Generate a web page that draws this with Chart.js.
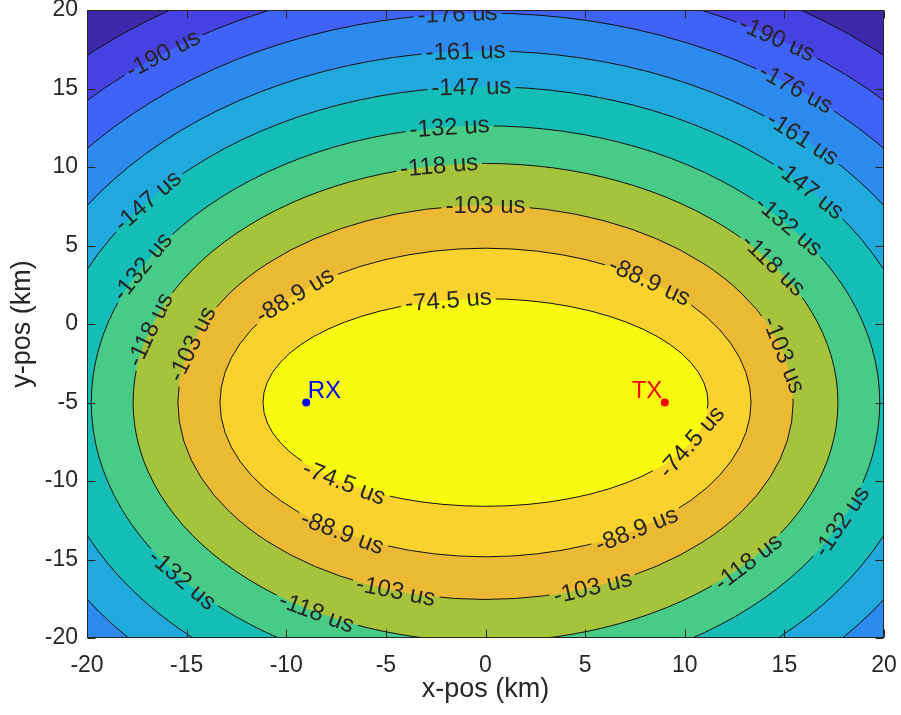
<!DOCTYPE html>
<html><head><meta charset="utf-8">
<script src="https://cdn.jsdelivr.net/npm/chart.js@4.4.0/dist/chart.umd.min.js"></script>
<style>html,body{margin:0;padding:0;background:#fff;}#wrap{width:901px;height:715px;}</style>
</head><body><div id="wrap"><canvas id="c" width="901" height="715"></canvas></div>
<script>
// ---- data ----
const levels = [-74.5, -88.9, -103, -118, -132, -147, -161, -176, -190, -204]; // contour levels (us)
const bandColors = ['#f9fb0e', '#f9d22d', '#ecb935', '#a5c43b', '#48cb86', '#14bdb6', '#1fa9dd', '#2d8bf0', '#3f63f8', '#4641e1', '#3e27a9']; // inner -> outer
const rxPos = [-9, -5];
const txPos = [9, -5];
const xTicks = [-20, -15, -10, -5, 0, 5, 10, 15, 20];
const yTicks = [-20, -15, -10, -5, 0, 5, 10, 15, 20];
const labelAnchors = [ // [level, approx x, approx y] where clabel put the label
  [-176, -1.4, 19.6], [-161, -1.0, 17.3], [-147, -0.7, 14.9], [-132, -1.8, 12.5],
  [-118, -2.3, 9.9], [-103, 0, 7.45], [-88.9, -9.1, 1.5], [-88.9, 8.0, 2.5],
  [-74.5, -1.8, 1.3], [-74.5, 9.9, -7.4], [-74.5, -6.8, -9.9], [-88.9, -6.5, -12.5],
  [-88.9, 7.5, -13.0], [-103, -4.5, -17], [-103, 5.4, -16.8], [-118, -8.5, -18.4],
  [-118, 13.5, -15.4], [-132, -15.1, -16.2], [-132, 17.7, -12.5], [-103, -14.6, -1.3],
  [-118, -16.7, -0.4], [-132, -17.5, 3.8], [-147, -16.9, 7.8], [-190, -16.1, 17.1],
  [-190, 14.4, 17.8], [-176, 15.5, 14.9], [-161, 15.8, 11.7], [-147, 16.2, 8.5],
  [-132, 14.9, 6.0], [-118, 14.2, 3.6], [-103, 14.8, -2.0]
];
const C_KM_PER_US = 0.2998;

const FONT = '"Liberation Sans", Arial, Helvetica, sans-serif';
const TXT = '#262626';

function ellipseOf(L) {
  const cx = (rxPos[0] + txPos[0]) / 2, cy = (rxPos[1] + txPos[1]) / 2;
  const c = Math.hypot(txPos[0] - rxPos[0], txPos[1] - rxPos[1]) / 2;
  const a = Math.abs(L) * C_KM_PER_US / 2;
  const b = Math.sqrt(Math.max(a * a - c * c, 0));
  return {cx, cy, a, b};
}

const contourPlugin = {
  id: 'contourf',
  beforeDatasetsDraw(chart) {
    const {ctx, chartArea: ar, scales: {x, y}} = chart;
    const W = ar.right - ar.left, H = ar.bottom - ar.top;
    const px = e => {
      const cxp = x.getPixelForValue(e.cx), cyp = y.getPixelForValue(e.cy);
      return {cxp, cyp, A: Math.abs(x.getPixelForValue(e.cx + e.a) - cxp), B: Math.abs(y.getPixelForValue(e.cy + e.b) - cyp)};
    };
    ctx.save();
    ctx.beginPath(); ctx.rect(ar.left, ar.top, W, H); ctx.clip();
    ctx.fillStyle = bandColors[levels.length];
    ctx.fillRect(ar.left, ar.top, W, H);
    const ells = levels.map(L => px(ellipseOf(L)));
    for (let i = levels.length - 1; i >= 0; i--) {
      const e = ells[i];
      ctx.beginPath(); ctx.ellipse(e.cxp, e.cyp, e.A, e.B, 0, 0, Math.PI * 2);
      ctx.fillStyle = bandColors[i]; ctx.fill();
    }
    // labels
    ctx.font = '24px ' + FONT;
    const labs = labelAnchors.map(([L, lx, ly]) => {
      const ed = ellipseOf(L), e = px(ed);
      const t = Math.atan2((ly - ed.cy) / ed.b, (lx - ed.cx) / ed.a);
      const pX = e.cxp + e.A * Math.cos(t), pY = e.cyp - e.B * Math.sin(t);
      let ang = Math.atan2(-e.B * Math.cos(t), -e.A * Math.sin(t));
      if (ang > Math.PI / 2) ang -= Math.PI;
      if (ang < -Math.PI / 2) ang += Math.PI;
      const text = L + ' us';
      const w = ctx.measureText(text).width + 8, h = 20;
      return {pX, pY, ang, text, w, h};
    });
    // lines, broken under labels
    ctx.save();
    ctx.beginPath(); ctx.rect(ar.left, ar.top, W, H);
    labs.forEach(l => {
      const c = Math.cos(l.ang), s = Math.sin(l.ang);
      const pts = [[-l.w / 2, -l.h / 2], [l.w / 2, -l.h / 2], [l.w / 2, l.h / 2], [-l.w / 2, l.h / 2]];
      pts.forEach(([u, v], k) => {
        const X = l.pX + u * c - v * s, Y = l.pY + u * s + v * c;
        k ? ctx.lineTo(X, Y) : ctx.moveTo(X, Y);
      });
      ctx.closePath();
    });
    ctx.clip('evenodd');
    ctx.strokeStyle = '#111'; ctx.lineWidth = 1;
    ells.forEach(e => { ctx.beginPath(); ctx.ellipse(e.cxp, e.cyp, e.A, e.B, 0, 0, Math.PI * 2); ctx.stroke(); });
    ctx.restore();
    ctx.fillStyle = TXT; ctx.textAlign = 'center'; ctx.textBaseline = 'middle';
    labs.forEach(l => {
      ctx.save(); ctx.translate(l.pX, l.pY); ctx.rotate(l.ang); ctx.fillText(l.text, 0, 1); ctx.restore();
    });
    ctx.restore();
  },
  afterDraw(chart) {
    const {ctx, chartArea: ar, scales: {x, y}} = chart;
    ctx.save();
    ctx.strokeStyle = TXT; ctx.lineWidth = 1;
    const L = Math.round(ar.left) + 0.5, R = Math.round(ar.right) - 0.5, T = Math.round(ar.top) + 0.5, B = Math.round(ar.bottom) - 0.5;
    ctx.strokeRect(L, T, R - L, B - T);
    const tl = 8;
    ctx.beginPath();
    xTicks.forEach(v => { const p = Math.round(x.getPixelForValue(v)) + 0.5; ctx.moveTo(p, B); ctx.lineTo(p, B - tl); ctx.moveTo(p, T); ctx.lineTo(p, T + tl); });
    yTicks.forEach(v => { const p = Math.round(y.getPixelForValue(v)) + 0.5; ctx.moveTo(L, p); ctx.lineTo(L + tl, p); ctx.moveTo(R, p); ctx.lineTo(R - tl, p); });
    ctx.stroke();
    // RX / TX labels
    ctx.font = '24px ' + FONT; ctx.textBaseline = 'alphabetic';
    const rx = x.getPixelForValue(rxPos[0]), ry = y.getPixelForValue(rxPos[1]);
    ctx.fillStyle = '#0000ff'; ctx.textAlign = 'left'; ctx.fillText('RX', rx + 1.5, ry - 5);
    const tx = x.getPixelForValue(txPos[0]), ty = y.getPixelForValue(txPos[1]);
    ctx.fillStyle = '#ff0000'; ctx.textAlign = 'right'; ctx.fillText('TX', tx - 2.5, ty - 5);
    ctx.restore();
  }
};

new Chart(document.getElementById('c'), {
  type: 'scatter',
  data: {
    datasets: [
      {label: 'RX', data: [{x: rxPos[0], y: rxPos[1]}], pointRadius: 4, pointBackgroundColor: '#0000ff', pointBorderWidth: 0},
      {label: 'TX', data: [{x: txPos[0], y: txPos[1]}], pointRadius: 4, pointBackgroundColor: '#ff0000', pointBorderWidth: 0}
    ]
  },
  options: {
    responsive: false, animation: false, devicePixelRatio: 1,
    layout: {padding: {left: 0, right: 17, top: 10, bottom: 0}},
    plugins: {legend: {display: false}, tooltip: {enabled: false}},
    scales: {
      x: {
        type: 'linear', min: -20, max: 20,
        afterBuildTicks: s => { s.ticks = xTicks.map(v => ({value: v})); },
        afterFit: s => { s.height = 77; s.paddingLeft = 0; s.paddingRight = 0; },
        grid: {display: false, drawTicks: false}, border: {display: false},
        ticks: {font: {family: FONT, size: 23}, color: TXT, padding: 14, maxRotation: 0, autoSkip: false},
        title: {display: true, text: 'x-pos (km)', font: {family: FONT, size: 27}, color: TXT, padding: {top: 9, bottom: 9}}
      },
      y: {
        type: 'linear', min: -20, max: 20,
        afterBuildTicks: s => { s.ticks = yTicks.map(v => ({value: v})); },
        afterFit: s => { s.width = 87; s.paddingTop = 0; s.paddingBottom = 0; },
        grid: {display: false, drawTicks: false}, border: {display: false},
        ticks: {font: {family: FONT, size: 23}, color: TXT, padding: 9, autoSkip: false},
        title: {display: true, text: 'y-pos (km)', font: {family: FONT, size: 27}, color: TXT, padding: {top: 6, bottom: 6}}
      }
    }
  },
  plugins: [contourPlugin]
});
</script></body></html>
